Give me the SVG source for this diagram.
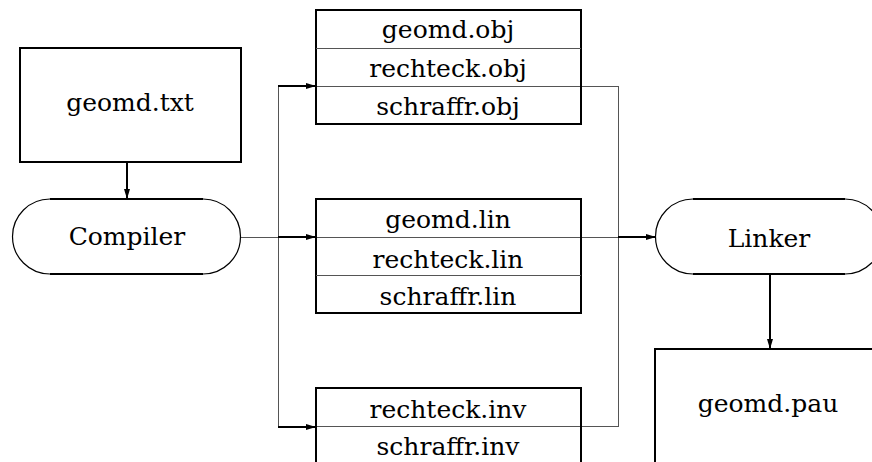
<svg xmlns="http://www.w3.org/2000/svg" width="872" height="462" viewBox="0 0 872 462">
<style>
.box{fill:none;stroke:#000;stroke-width:2}
.thin{fill:none;stroke:#555;stroke-width:1}
.thick{fill:none;stroke:#000;stroke-width:2}
.arc{fill:none;stroke:#000;stroke-width:1.2}
.t{font-family:'DejaVu Serif','Liberation Serif',serif;font-size:25px;fill:#000;text-anchor:middle}
</style>
<defs>
<marker id="ah" viewBox="0 0 10 6" refX="10" refY="3" markerWidth="10" markerHeight="6" markerUnits="userSpaceOnUse" orient="auto">
<path d="M0,0 L10,3 L0,6 Z" fill="#000"/>
</marker>
</defs>
<rect width="872" height="462" fill="#fff"/>
<g id="connectors">
<line class="thin" x1="241" y1="237.5" x2="278" y2="237.5"/>
<line class="thin" x1="278.5" y1="86" x2="278.5" y2="427"/>
<line class="thick" x1="278" y1="86" x2="316" y2="86" marker-end="url(#ah)"/>
<line class="thick" x1="278" y1="237" x2="316" y2="237" marker-end="url(#ah)"/>
<line class="thick" x1="278" y1="427" x2="316" y2="427" marker-end="url(#ah)"/>
<line class="thin" x1="316" y1="86.5" x2="618" y2="86.5"/>
<line class="thin" x1="316" y1="237.5" x2="618" y2="237.5"/>
<line class="thin" x1="316" y1="426.5" x2="618" y2="426.5"/>
<line class="thin" x1="618.5" y1="86" x2="618.5" y2="427"/>
<line class="thick" x1="618" y1="237" x2="656" y2="237" marker-end="url(#ah)"/>
<line class="thick" x1="127" y1="162" x2="127" y2="199" marker-end="url(#ah)"/>
<line class="thick" x1="770" y1="274" x2="770" y2="349" marker-end="url(#ah)"/>
</g>
<g id="geomd_txt">
<rect class="box" x="20" y="48" width="221" height="114"/>
<text class="t" x="130" y="111">geomd.txt</text>
</g>
<g id="compiler">
<path class="arc" d="M50,199 A37.5,37.5 0 0 0 50,274 M203,199 A37.5,37.5 0 0 1 203,274"/>
<path class="thick" d="M50,199 H203 M50,274 H203"/>
<text class="t" x="127" y="245">Compiler</text>
</g>
<g id="obj">
<rect class="box" x="316" y="10" width="265" height="114"/>
<line class="thin" x1="316" y1="48.5" x2="581" y2="48.5"/>
<text class="t" x="448" y="38">geomd.obj</text>
<text class="t" x="448" y="77">rechteck.obj</text>
<text class="t" x="448" y="115">schraffr.obj</text>
</g>
<g id="lin">
<rect class="box" x="316" y="199" width="265" height="114"/>
<line class="thin" x1="316" y1="275.5" x2="581" y2="275.5"/>
<text class="t" x="448" y="228">geomd.lin</text>
<text class="t" x="448" y="268">rechteck.lin</text>
<text class="t" x="448" y="305">schraffr.lin</text>
</g>
<g id="inv">
<rect class="box" x="316" y="388" width="265" height="114"/>
<text class="t" x="448" y="418">rechteck.inv</text>
<text class="t" x="448" y="455">schraffr.inv</text>
</g>
<g id="linker">
<path class="arc" d="M693,199 A37.5,37.5 0 0 0 693,274 M845,199 A37.5,37.5 0 0 1 845,274"/>
<path class="thick" d="M693,199 H845 M693,274 H845"/>
<text class="t" x="769" y="247">Linker</text>
</g>
<g id="geomd_pau">
<rect class="box" x="655" y="349" width="300" height="200"/>
<text class="t" x="768" y="412">geomd.pau</text>
</g>
</svg>
